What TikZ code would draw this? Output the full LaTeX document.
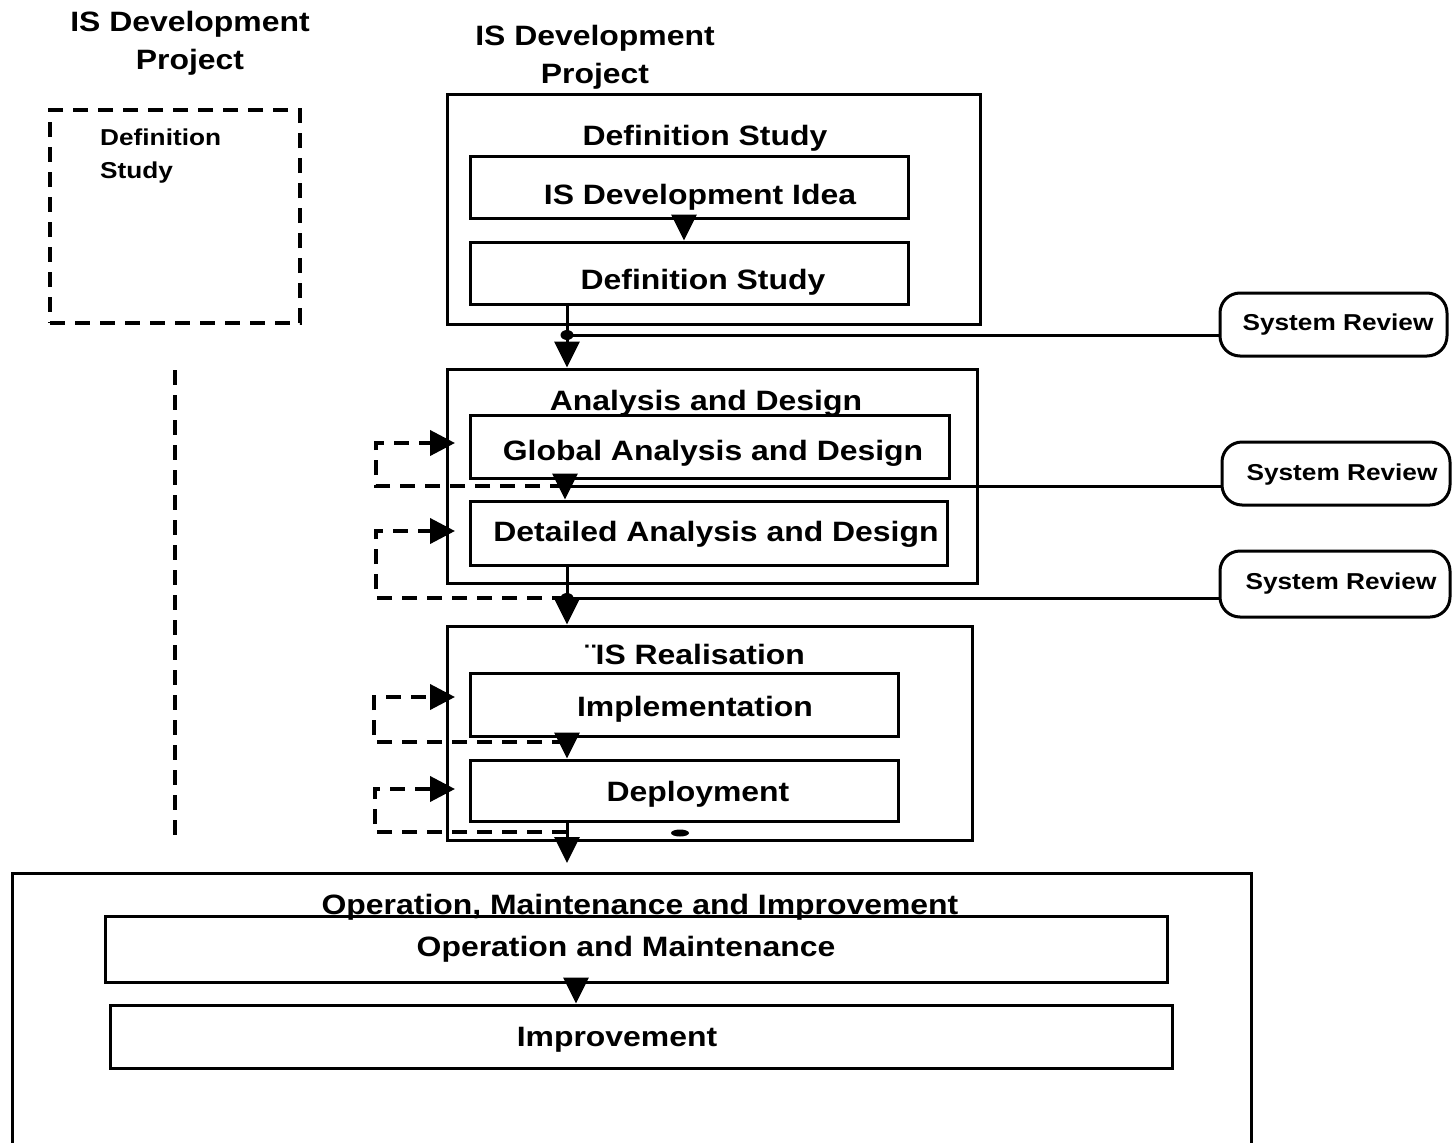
\documentclass[tikz,border=0pt]{standalone}
\usepackage{fontspec}
\setmainfont{Liberation Sans}[FakeStretch=1.14]
\usetikzlibrary{arrows.meta}
\begin{document}
\begin{tikzpicture}[x=1pt,y=-1pt,
  box/.style={draw, line width=3pt, inner sep=0pt},
  lab/.style={font=\bfseries\fontsize{28}{38}\selectfont, inner sep=0pt, anchor=base},
  slab/.style={font=\bfseries\fontsize{23}{33}\selectfont, inner sep=0pt, anchor=base},
  review/.style={draw, line width=3pt, rounded corners=20pt, inner sep=0pt},
  arr/.style={line width=3pt, -{Triangle[length=26pt,width=25pt]}},
  conn/.style={line width=3pt},
  loopline/.style={line width=4pt, dash pattern=on 15pt off 10pt, -{Triangle[length=25pt,width=25pt]}},
  dline/.style={line width=4pt, dash pattern=on 15pt off 10pt},
]
\useasboundingbox (0,0) rectangle (1454,1143);

% titles
\node[font=\bfseries\fontsize{28}{38}\selectfont, align=center, inner sep=0pt] (ttl1) at (190,43.75) {IS Development\\Project};
\node[font=\bfseries\fontsize{28}{38}\selectfont, align=center, inner sep=0pt] (ttl2) at (595,57.75) {IS Development\\Project};

% left dashed box
\node[draw, dline, minimum width=250pt, minimum height=213pt] (leftbox) at (175,216.5) {};
\node[font=\bfseries\fontsize{23}{33}\selectfont, align=left, inner sep=0pt, anchor=north west] (lefttxt) at (100,128.5) {Definition\\Study};
\coordinate (v1) at (175,370);
\coordinate (v2) at (175,835);
\draw[dline] (v1) -- (v2);

% Definition study group
\node[box, minimum width=533pt, minimum height=230pt] (defouter) at (713.5,209) {};
\node[lab] (defouterT) at (705,145) {Definition Study};
\node[box, minimum width=438pt, minimum height=62pt] (idea) at (689,187) {};
\node[lab] (ideaT) at (700,204) {IS Development Idea};
\node[box, minimum width=438pt, minimum height=62pt] (defin) at (689,273) {};
\node[lab] (definT) at (703,289) {Definition Study};
\draw[arr] ([xshift=-5pt]idea.south) -- ([xshift=-5pt]defin.north);

% Analysis and design group
\node[box, minimum width=530pt, minimum height=214pt] (anouter) at (712,476) {};
\node[lab] (anouterT) at (706,410) {Analysis and Design};
\node[box, minimum width=479pt, minimum height=63pt] (global) at (709.5,446.5) {};
\node[lab] (globalT) at (713,460) {Global Analysis and Design};
\node[box, minimum width=477pt, minimum height=64pt] (detail) at (708.5,533) {};
\node[lab] (detailT) at (716,541) {Detailed Analysis and Design};

% Realisation group
\node[box, minimum width=525pt, minimum height=214pt] (realouter) at (709.5,733) {};
\node[lab] (realouterT) at (695,664) {¨IS Realisation};
\node[box, minimum width=428pt, minimum height=63pt] (impl) at (684,704.5) {};
\node[lab] (implT) at (695,716) {Implementation};
\node[box, minimum width=428pt, minimum height=61pt] (deploy) at (684,790.5) {};
\node[lab] (deployT) at (698,801) {Deployment};

% Operation group
\node[box, minimum width=1239pt, minimum height=300pt] (opouter) at (631.5,1023) {};
\node[lab] (opouterT) at (640,914) {Operation, Maintenance and Improvement};
\node[box, minimum width=1062pt, minimum height=66pt] (om) at (636,949) {};
\node[lab] (omT) at (626,956) {Operation and Maintenance};
\node[box, minimum width=1062pt, minimum height=63pt] (impr) at (641,1036.5) {};
\node[lab] (imprT) at (617,1046) {Improvement};
\draw[arr] ([xshift=-60pt]om.south) -- ([xshift=-65pt]impr.north);

% System reviews
\node[review, minimum width=227pt, minimum height=63pt] (sr1) at (1333.5,324.5) {};
\node[slab] (sr1T) at (1338,330) {System Review};
\node[review, minimum width=228pt, minimum height=63pt] (sr2) at (1336,473.5) {};
\node[slab] (sr2T) at (1342,480) {System Review};
\node[review, minimum width=230pt, minimum height=66pt] (sr3) at (1335,584) {};
\node[slab] (sr3T) at (1341,589) {System Review};

% connectors
\coordinate (c1) at (567,335);
\draw[arr] (defin.south -| c1) -- (anouter.north -| c1);
\fill (c1) ellipse [x radius=6.5pt, y radius=5pt];
\draw[conn] (c1) -- (c1 -| sr1.west);

\coordinate (c2) at (565,486);
\draw[arr] (global.south -| c2) -- (detail.north -| c2);
\draw[conn] (c2) -- (c2 -| sr2.west);

\coordinate (c3) at (567,598);
\draw[arr] (detail.south -| c3) -- (realouter.north -| c3);
\fill (c3) ellipse [x radius=6.5pt, y radius=5pt];
\draw[conn] (c3) -- (c3 -| sr3.west);

\coordinate (c5) at (567,742);
\draw[arr] (impl.south -| c5) -- (deploy.north -| c5);

\coordinate (c6) at (567,832);
\coordinate (t6) at (567,863);
\draw[arr] (deploy.south -| c6) -- (t6);

\fill (680,833) ellipse [x radius=9pt, y radius=3.5pt];

% dashed feedback loops
\coordinate (l1) at (376,443); \coordinate (g1) at (455,443);
\draw[loopline] (c2) -| (l1) -- (g1);
\coordinate (l2) at (376,531); \coordinate (g2) at (455,531);
\draw[loopline] (c3) -| (l2) -- (g2);
\coordinate (l3) at (374,697); \coordinate (g3) at (455,697);
\draw[loopline] (c5) -| (l3) -- (g3);
\coordinate (l4) at (375,789); \coordinate (g4) at (455,789);
\draw[loopline] (c6) -| (l4) -- (g4);
\end{tikzpicture}
\end{document}
